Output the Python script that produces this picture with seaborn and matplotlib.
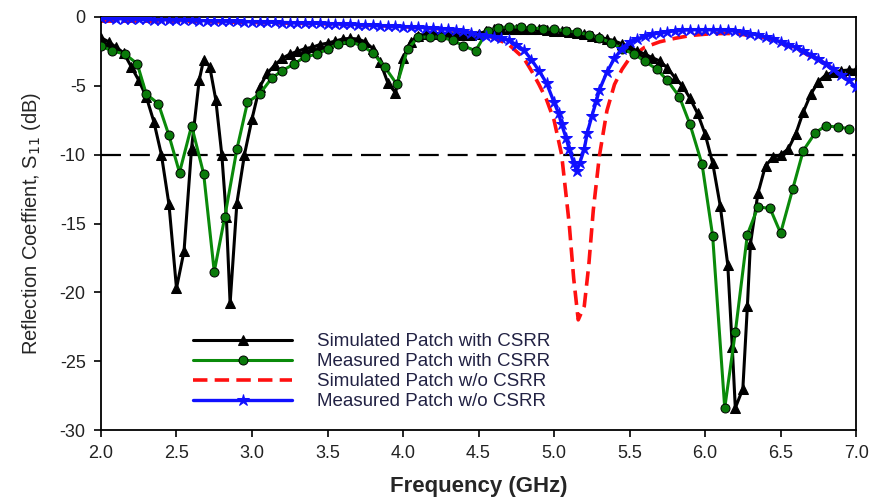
import matplotlib
matplotlib.use("Agg")
import matplotlib.pyplot as plt
import seaborn as sns
import pandas as pd

# Simulated Patch with CSRR
sim_csrr_f = [2.00, 2.05, 2.10, 2.15, 2.20, 2.25, 2.30, 2.35, 2.40, 2.45,
              2.50, 2.55, 2.60, 2.65, 2.68, 2.72, 2.76, 2.80, 2.83, 2.855,
              2.90, 2.95, 3.00, 3.05, 3.10, 3.15, 3.20, 3.25, 3.30, 3.35,
              3.40, 3.45, 3.50, 3.55, 3.60, 3.65, 3.70, 3.75, 3.80, 3.85,
              3.90, 3.95, 4.00, 4.05, 4.10, 4.15, 4.20, 4.25, 4.30, 4.35,
              4.40, 4.45, 4.50, 4.55, 4.60, 4.65, 4.70, 4.75, 4.80, 4.85,
              4.90, 4.95, 5.00, 5.05, 5.10, 5.15, 5.20, 5.25, 5.30, 5.35,
              5.40, 5.45, 5.50, 5.55, 5.60, 5.65, 5.70, 5.75, 5.80, 5.85,
              5.90, 5.95, 6.00, 6.05, 6.10, 6.15, 6.18, 6.20, 6.25, 6.28,
              6.30, 6.35, 6.40, 6.45, 6.50, 6.55, 6.60, 6.65, 6.70, 6.75,
              6.80, 6.85, 6.90, 6.95, 7.00]
sim_csrr_s11 = [-1.5, -1.8, -2.2, -2.6, -3.6, -4.6, -5.8, -7.6, -10.0, -13.6,
                -19.7, -17.0, -9.5, -4.6, -3.1, -3.6, -6.0, -10.0, -14.5, -20.8,
                -13.5, -10.0, -7.4, -5.1, -4.1, -3.5, -3.0, -2.7, -2.5, -2.3,
                -2.2, -2.0, -1.9, -1.75, -1.6, -1.55, -1.6, -1.8, -2.3, -3.3,
                -4.8, -5.5, -3.0, -1.8, -1.35, -1.25, -1.2, -1.2, -1.2, -1.25,
                -1.3, -1.3, -1.2, -1.05, -0.9, -0.87, -0.85, -0.85, -0.85, -0.87,
                -0.9, -0.95, -1.0, -1.05, -1.1, -1.17, -1.25, -1.35, -1.45, -1.6,
                -1.75, -1.95, -2.2, -2.45, -2.7, -2.95, -3.2, -3.7, -4.4, -5.0,
                -5.9, -7.0, -8.5, -10.6, -13.7, -18.0, -24.0, -28.4, -27.0, -21.0,
                -16.5, -12.8, -10.8, -10.2, -10.0, -9.6, -8.5, -6.9, -5.6, -4.7,
                -4.2, -4.0, -3.9, -3.85, -3.85]

# Measured Patch with CSRR
meas_csrr_f = [2.00, 2.07, 2.16, 2.24, 2.30, 2.38, 2.45, 2.52, 2.60, 2.68,
               2.75, 2.82, 2.90, 2.97, 3.05, 3.13, 3.20, 3.28, 3.35, 3.43,
               3.50, 3.57, 3.65, 3.73, 3.80, 3.88, 3.96, 4.03, 4.10, 4.18,
               4.25, 4.33, 4.40, 4.48, 4.56, 4.63, 4.70, 4.78, 4.85, 4.93,
               5.00, 5.08, 5.15, 5.23, 5.30, 5.38, 5.45, 5.53, 5.60, 5.68,
               5.75, 5.83, 5.90, 5.98, 6.05, 6.13, 6.20, 6.28, 6.35, 6.43,
               6.50, 6.58, 6.65, 6.73, 6.80, 6.88, 6.95]
meas_csrr_s11 = [-2.1, -2.45, -2.7, -3.4, -5.6, -6.3, -8.6, -11.3, -7.9, -11.4,
                 -18.5, -14.5, -9.6, -6.2, -5.6, -4.45, -3.9, -3.4, -2.9, -2.7,
                 -2.33, -1.97, -1.8, -2.1, -2.6, -3.65, -4.9, -2.33, -1.46, -1.46,
                 -1.46, -1.7, -2.1, -2.45, -1.0, -0.8, -0.7, -0.75, -0.8, -0.85,
                 -0.9, -1.0, -1.1, -1.3, -1.5, -1.9, -2.3, -2.7, -3.2, -3.8,
                 -4.6, -5.8, -7.8, -10.7, -15.9, -28.4, -22.9, -15.8, -13.8, -13.9,
                 -15.7, -12.5, -9.7, -8.4, -7.9, -8.0, -8.1]

# Simulated Patch w/o CSRR
sim_plain_f = [2.0, 2.5, 3.0, 3.5, 4.0, 4.3, 4.5, 4.6, 4.7, 4.8,
               4.85, 4.9, 4.95, 5.0, 5.05, 5.10, 5.13, 5.16, 5.20, 5.23,
               5.26, 5.30, 5.35, 5.40, 5.45, 5.50, 5.60, 5.70, 5.80, 5.90,
               6.00, 6.10, 6.20, 6.40, 6.60, 6.80, 7.00]
sim_plain_s11 = [-0.3, -0.3, -0.4, -0.5, -0.7, -0.9, -1.2, -1.5, -2.0, -3.0,
                 -3.9, -4.9, -6.0, -7.5, -10.0, -15.0, -19.0, -22.0, -21.0, -18.0,
                 -14.0, -10.1, -6.8, -4.9, -3.8, -3.0, -2.2, -1.8, -1.55, -1.35,
                 -1.25, -1.2, -1.2, -1.5, -2.3, -3.4, -5.0]

# Measured Patch w/o CSRR
meas_plain_f = [2.00, 2.05, 2.10, 2.15, 2.20, 2.25, 2.30, 2.35, 2.40, 2.45,
                2.50, 2.55, 2.60, 2.65, 2.70, 2.75, 2.80, 2.85, 2.90, 2.95,
                3.00, 3.05, 3.10, 3.15, 3.20, 3.25, 3.30, 3.35, 3.40, 3.45,
                3.50, 3.55, 3.60, 3.65, 3.70, 3.75, 3.80, 3.85, 3.90, 3.95,
                4.00, 4.05, 4.10, 4.15, 4.20, 4.25, 4.30, 4.35, 4.40, 4.45,
                4.50, 4.55, 4.60, 4.65, 4.70, 4.75, 4.80, 4.85, 4.90, 4.95,
                5.00, 5.03, 5.05, 5.08, 5.10, 5.13, 5.15, 5.17, 5.20, 5.22,
                5.25, 5.28, 5.30, 5.35, 5.40, 5.45, 5.50, 5.55, 5.60, 5.65,
                5.70, 5.75, 5.80, 5.85, 5.90, 5.95, 6.00, 6.05, 6.10, 6.15,
                6.20, 6.25, 6.30, 6.35, 6.40, 6.45, 6.50, 6.55, 6.60, 6.65,
                6.70, 6.75, 6.80, 6.85, 6.90, 6.95, 7.00]
meas_plain_s11 = [-0.1, -0.1, -0.12, -0.13, -0.15, -0.16, -0.18, -0.19, -0.2, -0.21,
                  -0.22, -0.24, -0.25, -0.26, -0.27, -0.28, -0.3, -0.31, -0.32, -0.33,
                  -0.35, -0.36, -0.38, -0.39, -0.4, -0.41, -0.42, -0.44, -0.45, -0.47,
                  -0.48, -0.5, -0.52, -0.54, -0.55, -0.58, -0.6, -0.62, -0.65, -0.68,
                  -0.7, -0.72, -0.75, -0.78, -0.8, -0.85, -0.9, -0.97, -1.05, -1.15,
                  -1.3, -1.38, -1.45, -1.55, -1.7, -2.0, -2.4, -3.1, -3.9, -4.8,
                  -6.2, -7.0, -7.8, -8.8, -9.6, -10.6, -11.2, -10.6, -9.6, -8.4,
                  -7.2, -6.1, -5.3, -4.0, -3.0, -2.3, -1.8, -1.6, -1.4, -1.25,
                  -1.15, -1.07, -1.0, -0.96, -0.93, -0.92, -0.92, -0.93, -0.95, -0.97,
                  -1.0, -1.1, -1.2, -1.32, -1.45, -1.6, -1.8, -2.0, -2.2, -2.45,
                  -2.75, -3.05, -3.4, -3.8, -4.2, -4.6, -5.1]

threshold = -10

sns.set_theme(style="ticks")
plt.rcParams["font.family"] = ["Liberation Sans", "DejaVu Sans"]

fig = plt.figure(figsize=(8.72, 4.97), dpi=100)
ax = fig.add_axes([0.1158, 0.1348, 0.866, 0.831])

ax.axhline(threshold, color="black", lw=1.6, ls=(0, (9, 4)), zorder=1)

df_sim = pd.DataFrame({"f": sim_csrr_f, "s11": sim_csrr_s11})
df_meas = pd.DataFrame({"f": meas_csrr_f, "s11": meas_csrr_s11})
df_sim0 = pd.DataFrame({"f": sim_plain_f, "s11": sim_plain_s11})
df_meas0 = pd.DataFrame({"f": meas_plain_f, "s11": meas_plain_s11})

sns.lineplot(data=df_sim, x="f", y="s11", ax=ax, color="black", lw=2.2,
             marker="^", markersize=6.5, markeredgecolor="black",
             label="Simulated Patch with CSRR", sort=False, estimator=None, zorder=3)
sns.lineplot(data=df_meas, x="f", y="s11", ax=ax, color="#0a8a0a", lw=2.2,
             marker="o", markersize=6.5, markerfacecolor="#0a7a0a", markeredgecolor="black",
             markeredgewidth=0.7,
             label="Measured Patch with CSRR", sort=False, estimator=None, zorder=4)
sns.lineplot(data=df_sim0, x="f", y="s11", ax=ax, color="#ff1010", lw=2.6,
             label="Simulated Patch w/o CSRR", sort=False, estimator=None, zorder=2)
ax.lines[-1].set_linestyle((0, (4, 2)))
sns.lineplot(data=df_meas0, x="f", y="s11", ax=ax, color="#1010ff", lw=2.4,
             marker="*", markersize=9, markeredgecolor="#1010ff",
             label="Measured Patch w/o CSRR", sort=False, estimator=None, zorder=5)

ax.set_xlim(2.0, 7.0)
ax.set_ylim(-30, 0)
ax.set_xticks([2.0, 2.5, 3.0, 3.5, 4.0, 4.5, 5.0, 5.5, 6.0, 6.5, 7.0])
ax.set_xticklabels([f"{v:.1f}" for v in ax.get_xticks()])
ax.set_yticks([0, -5, -10, -15, -20, -25, -30])
ax.set_yticklabels(["0", "-5", "-10", "-15", "-20", "-25", "-30"])
ax.tick_params(direction="out", length=5, width=1.2, color="black", labelsize=13,
               labelcolor="#222222", pad=6)
for sp in ax.spines.values():
    sp.set_color("black")
    sp.set_linewidth(1.3)

ax.set_xlabel("Frequency (GHz)", fontsize=16, fontweight="bold", labelpad=10)
ax.set_ylabel("Reflection Coeffient, S$_{11}$ (dB)", fontsize=14.5, labelpad=12)

leg = ax.legend(loc="center left", bbox_to_anchor=(0.122, 0.141), frameon=False,
                fontsize=13.5, handlelength=5.3, handletextpad=1.3, labelspacing=0.15,
                borderaxespad=0, borderpad=0)
for t in leg.get_texts():
    t.set_color("#222244")

fig.savefig("out.png", dpi=100)
